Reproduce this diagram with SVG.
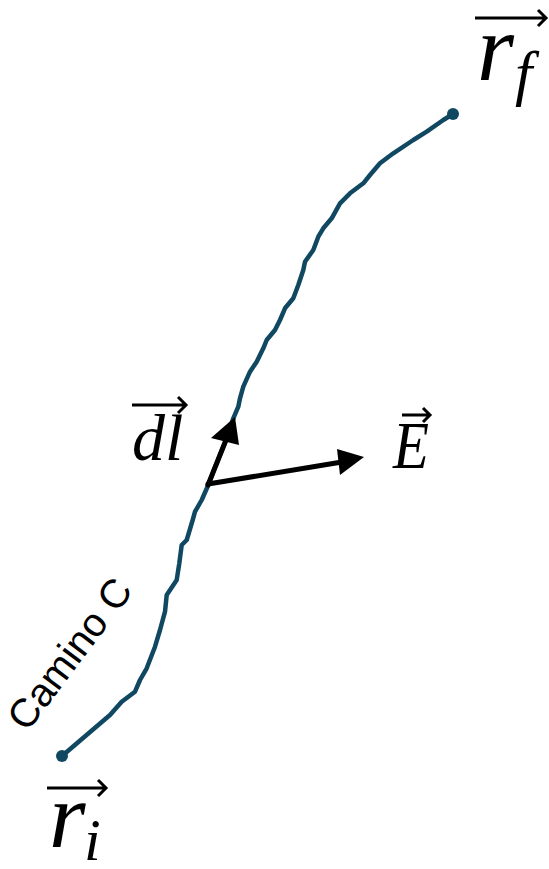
<svg xmlns="http://www.w3.org/2000/svg" width="549" height="869" viewBox="0 0 549 869">
<defs>
<style>
.math{font-family:'Liberation Serif','DejaVu Serif',serif;font-style:italic;fill:#000}
.ov{fill:none;stroke:#000;stroke-width:3;stroke-linecap:butt;stroke-linejoin:miter}
.path{fill:none;stroke:#104862;stroke-width:4.5;stroke-linejoin:round;stroke-linecap:round}
.vec{stroke:#000;stroke-width:5;stroke-linecap:round}
</style>
</defs>
<rect width="549" height="869" fill="#fff"/>
<g id="camino">
<polyline class="path" points="62,756 110,715 121.7,701.7 135,691.7 140,680 146.7,668.3 155,646.7 160,630 165,611.7 166.7,595 176.7,580 179.3,563.3 181.7,545 186.7,540 192.7,520 195,511.7 201.7,500 208.3,485 214,470 220,455 226,440 233.3,418.3 238.3,406.7 240,398.3 243.3,386.7 250,371.7 256.7,361.7 263.3,348.3 266.7,340 275,330 280,320 285,308.3 293.3,298.3 298.3,285 303.3,270 305,261.7 313.3,250 318.3,236.7 323.3,228.3 331.7,218.3 340,203.3 350,193.3 363.3,183.3 370,175 380,163.3 393.3,153.3 413.3,140 426.7,131.7 443.3,120 453,114"/>
<circle cx="62" cy="756" r="6" fill="#104862"/>
<circle cx="453" cy="114" r="6" fill="#104862"/>
<text x="27" y="733" transform="rotate(-53 27 733)" font-family="'Liberation Sans', Arial, sans-serif" font-size="40" fill="#000">Camino C</text>
</g>
<g id="rf">
<text class="math" x="477" y="80" font-size="95">r</text>
<text class="math" x="515" y="94" font-size="62">f</text>
<path class="ov" d="M475,18 H546 M538,10 L546,18 L538,26"/>
</g>
<g id="ri">
<text class="math" x="49" y="847" font-size="94">r</text>
<text class="math" x="84" y="860" font-size="60">i</text>
<path class="ov" d="M47,788 H106 M98,780 L106,788 L98,796"/>
</g>
<g id="dl">
<text class="math" x="132" y="460" font-size="66">dl</text>
<path class="ov" d="M132,405 H186 M178,397 L186,405 L178,413"/>
</g>
<g id="E">
<text class="math" x="393" y="468" font-size="68" textLength="36" lengthAdjust="spacingAndGlyphs">E</text>
<path class="ov" d="M402,415 H430 M423,408 L430,415 L423,422"/>
</g>
<g id="connectors">
<line class="vec" x1="208" y1="485" x2="226" y2="440"/>
<polygon points="235,417 211,438 239,445" fill="#000"/>
<line class="vec" x1="208" y1="484" x2="342" y2="462"/>
<polygon points="364,457 337,449 340,475" fill="#000"/>
</g>
</svg>
